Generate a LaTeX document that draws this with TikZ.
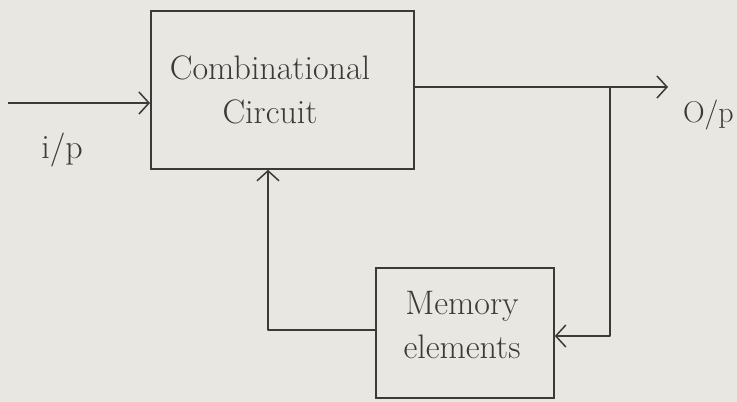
\documentclass[tikz,border=0pt]{standalone}
\usetikzlibrary{arrows.meta}
\definecolor{paper}{HTML}{E8E7E2}
\definecolor{ink}{HTML}{3A3A38}
\begin{document}
\begin{tikzpicture}[x=1pt,y=-1pt,
  wire/.style={draw=ink,line width=1.8pt,line join=round},
  arr/.style={wire,-{Straight Barb[length=10pt,width=22pt,line width=1.5pt]}},
  block/.style={draw=ink,line width=1.8pt,inner sep=0pt,anchor=north west},
  lbl/.style={text=ink,font=\fontsize{34}{44}\selectfont,align=center}]
  \fill[paper] (0,0) rectangle (737,402);
  \useasboundingbox (0,0) rectangle (737,402);
  % blocks
  \node[block,minimum width=263pt,minimum height=158pt] (comb) at (150,10) {};
  \node[block,minimum width=178pt,minimum height=130pt] (mem) at (375,267) {};
  \node[lbl] (combtxt) at (270,90) {Combinational\\Circuit};
  \node[lbl] (memtxt) at (462,325) {Memory\\elements};
  % terminals
  \coordinate (in) at (8,103);
  \coordinate (out) at (668,87);
  \coordinate (tap) at (610,87);
  \node[lbl] (ilbl) at (62,150) {i/p};
  \node[lbl,font=\fontsize{30}{36}\selectfont,anchor=east,inner sep=1pt] (olbl) at (735,115) {O/p};
  % connections
  \draw[arr] (in) -- (comb.west |- in);
  \draw[arr] (comb.east |- out) -- (out);
  \draw[arr] (tap) |- (mem.east |- 0,336);
  \draw[arr] (mem.west |- 0,330) -| (comb.south -| 268,0);
\end{tikzpicture}
\end{document}
